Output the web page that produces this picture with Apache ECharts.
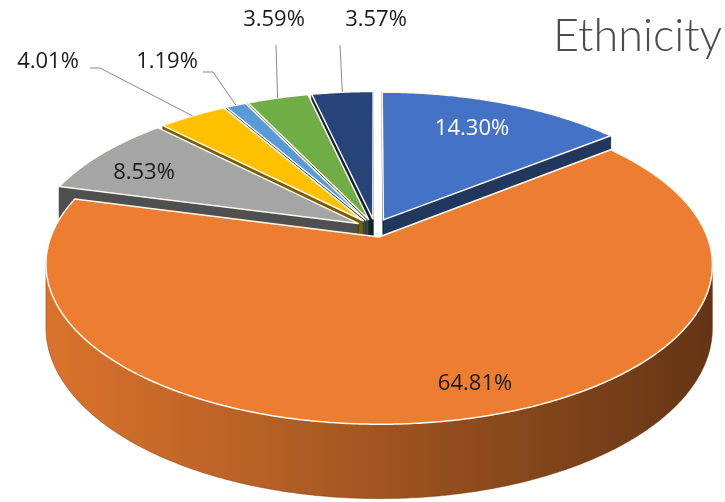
<!DOCTYPE html>
<html>
<head>
<meta charset="utf-8">
<script src="https://cdn.jsdelivr.net/npm/echarts@6/dist/echarts.min.js"></script>
<style>
  html, body { margin: 0; padding: 0; background: #ffffff; }
  #chart { width: 725px; height: 502px; }
</style>
</head>
<body>
<div id="chart"></div>
<script>
// Ethnicity shares (%), clockwise from 12 o'clock
const shares = [14.30, 64.81, 8.53, 4.01, 1.19, 3.59, 3.57];
const sliceColors = ['#4472C4', '#ED7D31', '#A5A5A5', '#FFC000', '#5B9BD5', '#70AD47', '#264478'];
const chartTitle = 'Ethnicity';

// Label placement (pixel centres) and leader-line start points for outside labels
const labelLayout = [
  { x: 472, y: 129, color: '#ffffff' },
  { x: 475, y: 384, color: '#1a1a1a' },
  { x: 144, y: 173, color: '#1a1a1a' },
  { x: 48,  y: 62,  color: '#1a1a1a', line: [[90, 68], [100, 68]] },
  { x: 167, y: 62,  color: '#1a1a1a', line: [[203, 72], [213, 72]] },
  { x: 274, y: 20,  color: '#1a1a1a', line: [[276, 45]] },
  { x: 376, y: 20,  color: '#1a1a1a', line: [[340, 45]] }
];

// Simple perspective view of a tilted disc (unit radius, unit thickness)
const VIEW = { cx: 375, cy: 228, sx: 325, sy: 152, q: 0.17, h: 61, explode: 0.06 };

function project(X, Y, Z) {
  const w = 1 + VIEW.q * Y;
  return [VIEW.cx + VIEW.sx * X / w, VIEW.cy - VIEW.sy * Y / w - VIEW.h * Z / w];
}

function shade(hex, f) {
  const n = parseInt(hex.slice(1), 16);
  const r = Math.round(((n >> 16) & 255) * f);
  const g = Math.round(((n >> 8) & 255) * f);
  const b = Math.round((n & 255) * f);
  return 'rgb(' + r + ',' + g + ',' + b + ')';
}

function signedArea(pts) {
  let s = 0;
  for (let i = 0; i < pts.length; i++) {
    const a = pts[i], b = pts[(i + 1) % pts.length];
    s += a[0] * b[1] - b[0] * a[1];
  }
  return s;
}

const total = shares.reduce((a, b) => a + b, 0);
const slices = [];
let acc = 0;
shares.forEach(function (v, i) {
  const a0 = acc / total * Math.PI * 2;
  acc += v;
  const a1 = acc / total * Math.PI * 2;
  const mid = (a0 + a1) / 2;
  slices.push({ a0: a0, a1: a1, mid: mid,
    ox: VIEW.explode * Math.sin(mid), oy: VIEW.explode * Math.cos(mid) });
});

function rimPoint(s, t, z) {
  return project(s.ox + Math.sin(t), s.oy + Math.cos(t), z);
}

function renderSlice(params, api) {
  const i = params.dataIndex;
  const s = slices[i];
  const color = sliceColors[i];
  const children = [];
  const steps = Math.max(2, Math.ceil((s.a1 - s.a0) / (Math.PI / 360)));
  const angles = [];
  for (let k = 0; k <= steps; k++) angles.push(s.a0 + (s.a1 - s.a0) * k / steps);

  const apexTop = project(s.ox, s.oy, 0);
  const apexBot = project(s.ox, s.oy, -1);

  // radial cut faces
  const startFace = [apexTop, rimPoint(s, s.a0, 0), rimPoint(s, s.a0, -1), apexBot];
  const endFace = [apexTop, apexBot, rimPoint(s, s.a1, -1), rimPoint(s, s.a1, 0)];
  [[startFace, s.a0], [endFace, s.a1]].forEach(function (f) {
    if (signedArea(f[0]) < 0) {
      const depth = (s.oy + s.oy + Math.cos(f[1])) / 2;
      children.push({
        type: 'polygon', z2: -depth * 100,
        shape: { points: f[0] },
        style: { fill: shade(color, 0.48), stroke: shade(color, 0.3), lineWidth: 0.8 }
      });
    }
  });

  // outer curved wall: keep only the part facing the viewer
  let run = [];
  const runs = [];
  for (let k = 0; k < angles.length - 1; k++) {
    const p0 = rimPoint(s, angles[k], 0), p1 = rimPoint(s, angles[k + 1], 0);
    if (p1[0] < p0[0]) {
      if (!run.length) run.push(angles[k]);
      run.push(angles[k + 1]);
    } else if (run.length) { runs.push(run); run = []; }
  }
  if (run.length) runs.push(run);
  runs.forEach(function (r) {
    const top = r.map(function (t) { return rimPoint(s, t, 0); });
    const bot = r.map(function (t) { return rimPoint(s, t, -1); }).reverse();
    let depth = 0;
    r.forEach(function (t) { depth += s.oy + Math.cos(t); });
    depth /= r.length;
    children.push({
      type: 'polygon', z2: -depth * 100,
      shape: { points: top.concat(bot) },
      style: {
        fill: new echarts.graphic.LinearGradient(0, 0, 1, 0, [
          { offset: 0, color: shade(color, 0.92) },
          { offset: 0.3, color: shade(color, 0.78) },
          { offset: 0.6, color: shade(color, 0.62) },
          { offset: 1, color: shade(color, 0.42) }
        ]),
        stroke: shade(color, 0.5), lineWidth: 0.5
      }
    });
  });

  // top face
  const topPts = [apexTop].concat(angles.map(function (t) { return rimPoint(s, t, 0); }));
  children.push({
    type: 'polygon', z2: 1000,
    shape: { points: topPts },
    style: { fill: color, stroke: '#fffaf0', lineWidth: 1.5, lineJoin: 'round' }
  });

  // value label and leader line
  const lay = labelLayout[i];
  if (lay.line) {
    const end = rimPoint(s, s.mid, 0);
    children.push({
      type: 'polyline', z2: 1100,
      shape: { points: lay.line.concat([end]) },
      style: { stroke: '#8a8a8a', lineWidth: 1, fill: null }
    });
  }
  children.push({
    type: 'text', z2: 1200, x: lay.x, y: lay.y,
    style: {
      text: api.value(0).toFixed(2) + '%',
      fill: lay.color,
      font: '22px "Open Sans", Lato, sans-serif',
      align: 'center', verticalAlign: 'middle'
    }
  });

  return { type: 'group', children: children };
}

const chart = echarts.init(document.getElementById('chart'), null, { renderer: 'canvas' });
chart.setOption({
  animation: false,
  backgroundColor: '#ffffff',
  title: {
    text: chartTitle,
    left: 553, top: 14, padding: 0,
    textStyle: { fontFamily: 'Lato', fontWeight: 300, fontSize: 45, color: '#4d4d4d' }
  },
  series: [{
    type: 'custom',
    coordinateSystem: 'none',
    renderItem: renderSlice,
    data: shares.map(function (v) { return [v]; })
  }]
});
</script>
</body>
</html>
